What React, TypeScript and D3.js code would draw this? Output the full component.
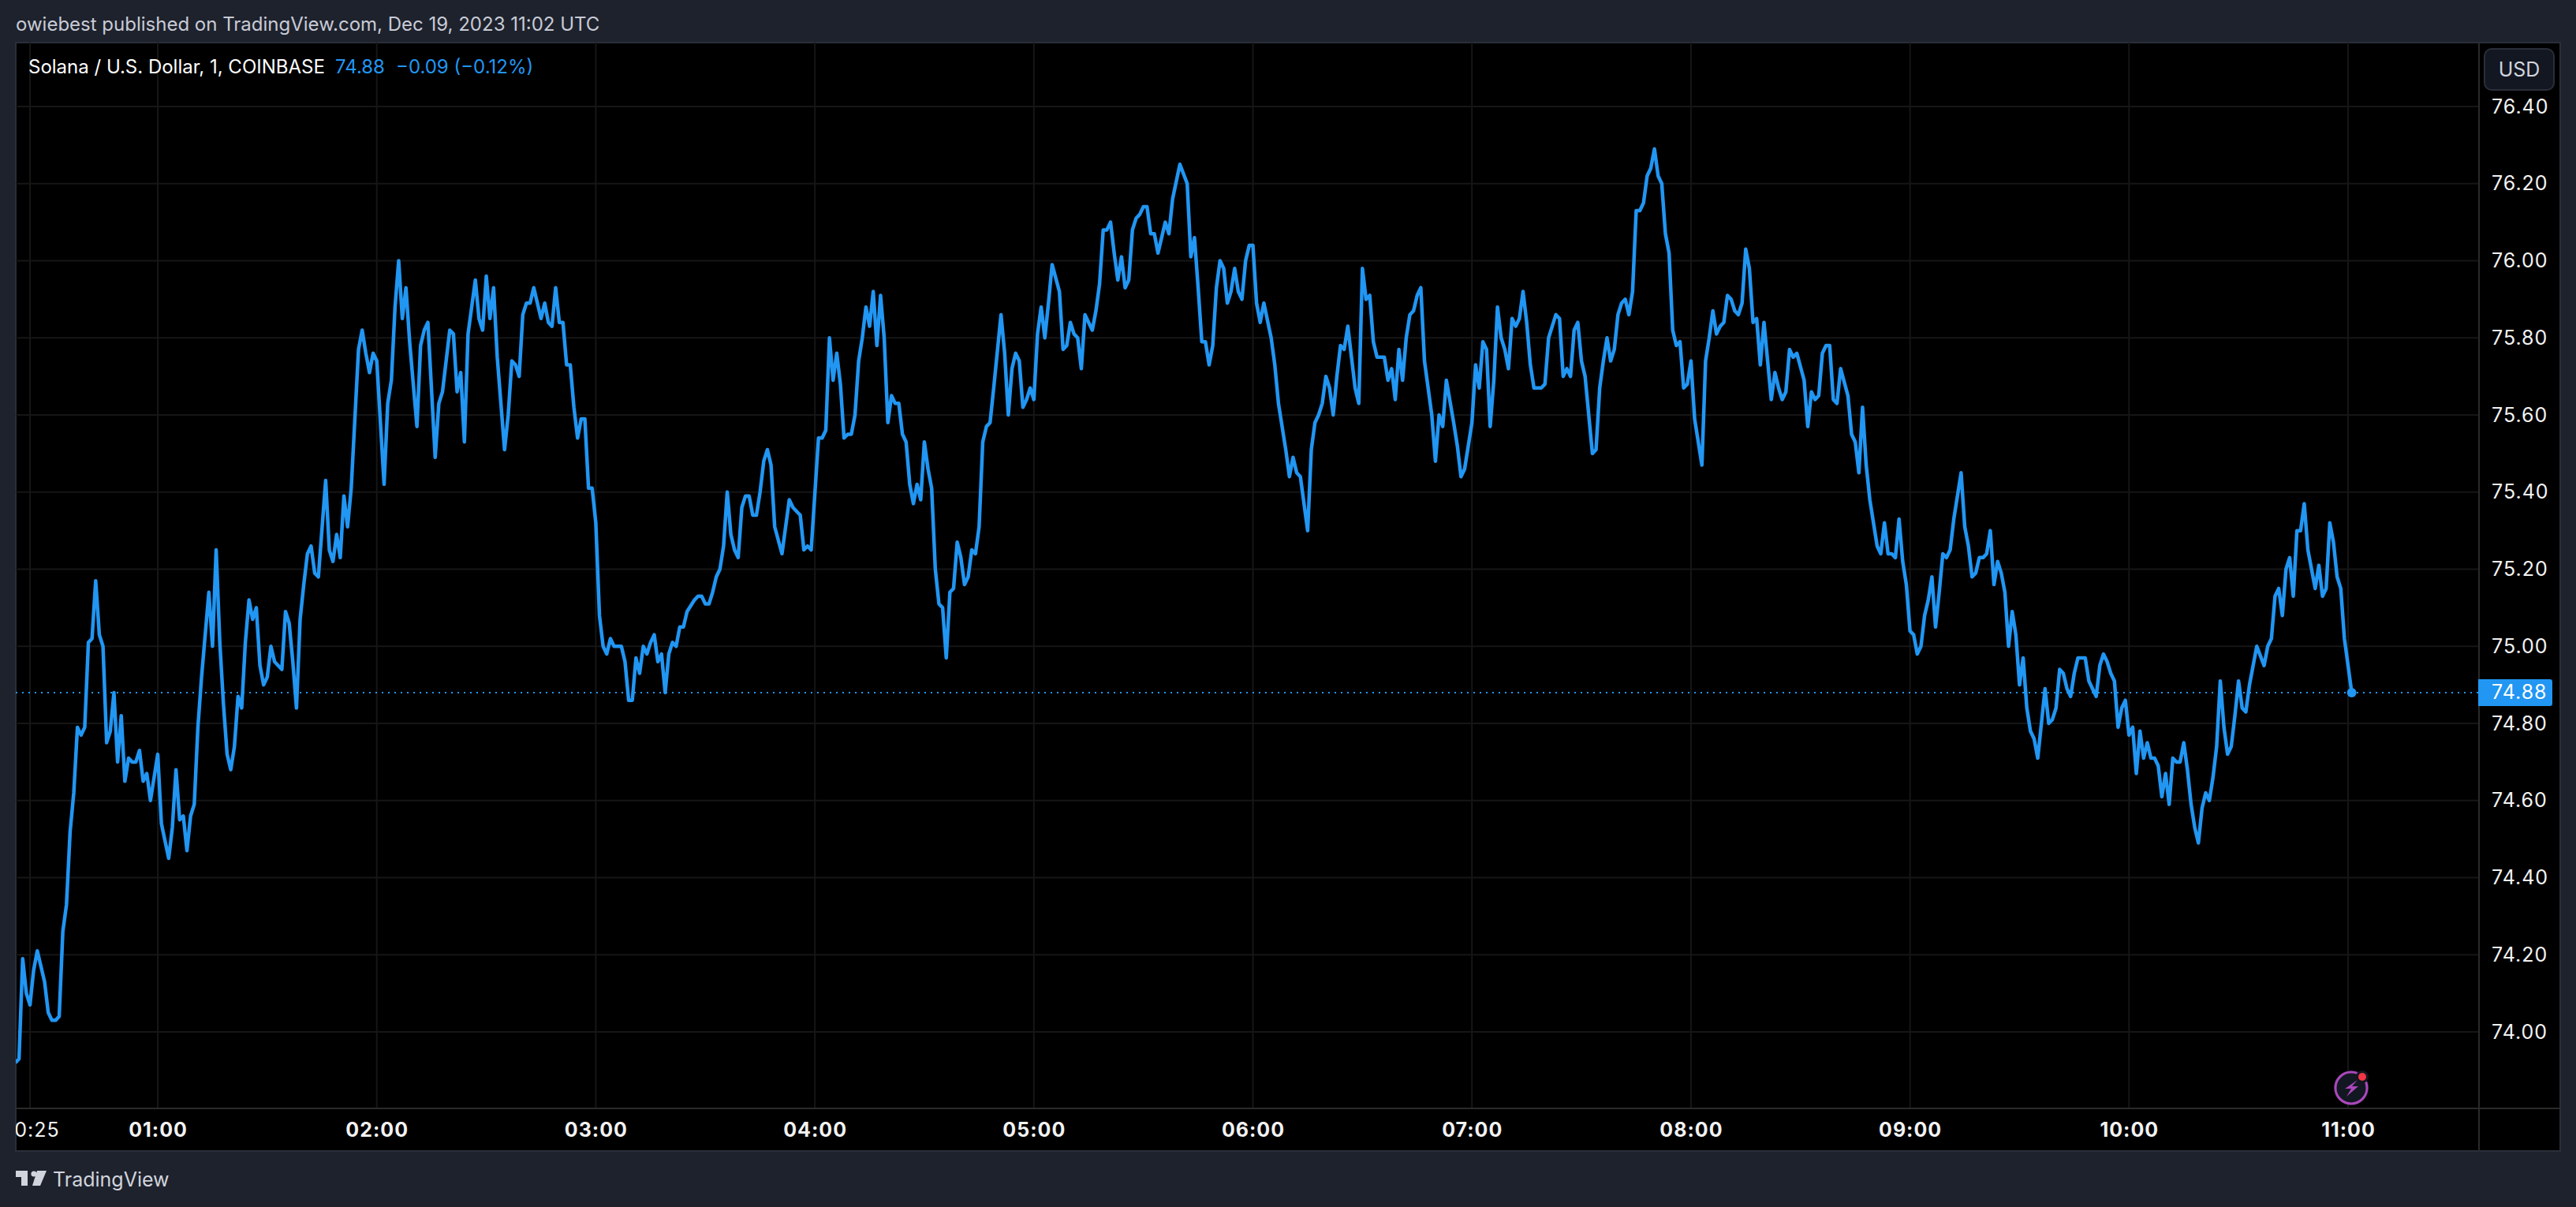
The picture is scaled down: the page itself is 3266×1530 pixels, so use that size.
import { useEffect, useRef } from 'react';
import * as d3 from 'd3';

// [minute of the day, price]
const hour0: [number, number][] = [
  [21, 73.92], [22, 73.93], [23, 74.19], [24, 74.10], [25, 74.07], [26, 74.16], [27, 74.21], [29, 74.13], [30, 74.05],
  [31, 74.03], [32, 74.03], [33, 74.04], [34, 74.26], [35, 74.33], [36, 74.52], [37, 74.62], [38, 74.79], [39, 74.77],
  [40, 74.79], [41, 75.01], [42, 75.02], [43, 75.17], [44, 75.03], [45, 75.00], [46, 74.75], [47, 74.78], [48, 74.88],
  [49, 74.70], [50, 74.82], [51, 74.65], [52, 74.71], [53, 74.70], [54, 74.70], [55, 74.73], [56, 74.65], [57, 74.67],
  [58, 74.60],
];
const hour1: [number, number][] = [
  [60, 74.72], [61, 74.54], [63, 74.45], [64, 74.53], [65, 74.68], [66, 74.55], [67, 74.56], [68, 74.47], [69, 74.56],
  [70, 74.59], [71, 74.79], [72, 74.92], [74, 75.14], [75, 75.00], [76, 75.25], [77, 75.01], [78, 74.85], [79, 74.72],
  [80, 74.68], [81, 74.74], [82, 74.87], [83, 74.84], [84, 75.01], [85, 75.12], [86, 75.07], [87, 75.10], [88, 74.95],
  [89, 74.90], [90, 74.92], [91, 75.00], [92, 74.96], [93, 74.95], [94, 74.94], [95, 75.09], [96, 75.06], [97, 74.96],
  [98, 74.84], [99, 75.07], [100, 75.16], [101, 75.24], [102, 75.26], [103, 75.19], [104, 75.18], [106, 75.43],
  [107, 75.25], [108, 75.22], [109, 75.29], [110, 75.23], [111, 75.39], [112, 75.31], [113, 75.41], [114, 75.59],
  [115, 75.77], [116, 75.82], [117, 75.76], [118, 75.71], [119, 75.76],
];
const hour2: [number, number][] = [
  [120, 75.74], [122, 75.42], [123, 75.63], [124, 75.69], [125, 75.88], [126, 76.00], [127, 75.85], [128, 75.93],
  [129, 75.79], [131, 75.57], [132, 75.78], [133, 75.82], [134, 75.84], [136, 75.49], [137, 75.63], [138, 75.66],
  [139, 75.74], [140, 75.82], [141, 75.81], [142, 75.66], [143, 75.71], [144, 75.53], [145, 75.81], [147, 75.95],
  [148, 75.85], [149, 75.82], [150, 75.96], [151, 75.85], [152, 75.93], [153, 75.75], [155, 75.51], [156, 75.60],
  [157, 75.74], [158, 75.73], [159, 75.70], [160, 75.86], [161, 75.89], [162, 75.89], [163, 75.93], [165, 75.85],
  [166, 75.89], [167, 75.84], [168, 75.83], [169, 75.93], [170, 75.84], [171, 75.84], [172, 75.73], [173, 75.73],
  [174, 75.62], [175, 75.54], [176, 75.59], [177, 75.59], [178, 75.41], [179, 75.41],
];
const hour3: [number, number][] = [
  [180, 75.32], [181, 75.08], [182, 75.00], [183, 74.98], [184, 75.02], [185, 75.00], [187, 75.00], [188, 74.96],
  [189, 74.86], [190, 74.86], [191, 74.97], [192, 74.93], [193, 75.00], [194, 74.98], [195, 75.01], [196, 75.03],
  [197, 74.96], [198, 74.98], [199, 74.88], [200, 74.98], [201, 75.01], [202, 75.00], [203, 75.05], [204, 75.05],
  [205, 75.09], [207, 75.12], [208, 75.13], [209, 75.13], [210, 75.11], [211, 75.11], [212, 75.14], [213, 75.18],
  [214, 75.20], [215, 75.26], [216, 75.40], [217, 75.29], [218, 75.25], [219, 75.23], [220, 75.36], [221, 75.39],
  [222, 75.39], [223, 75.34], [224, 75.34], [225, 75.40], [226, 75.48], [227, 75.51], [228, 75.47], [229, 75.31],
  [231, 75.24], [233, 75.38], [234, 75.36], [236, 75.34], [237, 75.25], [238, 75.26], [239, 75.25],
];
const hour4: [number, number][] = [
  [241, 75.54], [242, 75.54], [243, 75.56], [244, 75.80], [245, 75.69], [246, 75.76], [247, 75.68], [248, 75.54],
  [249, 75.55], [250, 75.55], [251, 75.60], [252, 75.74], [253, 75.80], [254, 75.88], [255, 75.83], [256, 75.92],
  [257, 75.78], [258, 75.91], [259, 75.80], [260, 75.58], [261, 75.65], [262, 75.63], [263, 75.63], [264, 75.55],
  [265, 75.53], [266, 75.42], [267, 75.37], [268, 75.42], [269, 75.38], [270, 75.53], [271, 75.46], [272, 75.41],
  [273, 75.20], [274, 75.11], [275, 75.10], [276, 74.97], [277, 75.14], [278, 75.15], [279, 75.27], [280, 75.23],
  [281, 75.16], [282, 75.18], [283, 75.25], [284, 75.24], [285, 75.31], [286, 75.53], [287, 75.57], [288, 75.58],
  [289, 75.67], [291, 75.86], [292, 75.76], [293, 75.60], [294, 75.72], [295, 75.76], [296, 75.74], [297, 75.62],
  [298, 75.64], [299, 75.67],
];
const hour5: [number, number][] = [
  [300, 75.64], [301, 75.81], [302, 75.88], [303, 75.80], [304, 75.89], [305, 75.99], [307, 75.92], [308, 75.77],
  [309, 75.78], [310, 75.84], [311, 75.81], [312, 75.80], [313, 75.72], [314, 75.86], [316, 75.82], [317, 75.87],
  [318, 75.94], [319, 76.08], [320, 76.08], [321, 76.10], [322, 76.02], [323, 75.95], [324, 76.01], [325, 75.93],
  [326, 75.95], [327, 76.08], [328, 76.11], [329, 76.12], [330, 76.14], [331, 76.14], [332, 76.07], [333, 76.07],
  [334, 76.02], [335, 76.06], [336, 76.10], [337, 76.07], [338, 76.16], [340, 76.25], [342, 76.20], [343, 76.01],
  [344, 76.06], [345, 75.93], [346, 75.79], [347, 75.79], [348, 75.73], [349, 75.78], [350, 75.93], [351, 76.00],
  [352, 75.98], [353, 75.89], [354, 75.92], [355, 75.98], [356, 75.92], [357, 75.90], [358, 76.00], [359, 76.04],
];
const hour6: [number, number][] = [
  [360, 76.04], [361, 75.89], [362, 75.84], [363, 75.89], [365, 75.80], [366, 75.73], [367, 75.63], [369, 75.51],
  [370, 75.44], [371, 75.49], [372, 75.45], [373, 75.44], [374, 75.37], [375, 75.30], [376, 75.51], [377, 75.58],
  [378, 75.60], [379, 75.63], [380, 75.70], [381, 75.67], [382, 75.60], [383, 75.70], [384, 75.78], [385, 75.77],
  [386, 75.83], [387, 75.75], [388, 75.67], [389, 75.63], [390, 75.98], [391, 75.90], [392, 75.91], [393, 75.79],
  [394, 75.75], [396, 75.75], [397, 75.69], [398, 75.72], [399, 75.64], [400, 75.77], [401, 75.69], [402, 75.80],
  [403, 75.86], [404, 75.87], [405, 75.91], [406, 75.93], [407, 75.74], [409, 75.60], [410, 75.48], [411, 75.60],
  [412, 75.57], [413, 75.69], [415, 75.58], [416, 75.52], [417, 75.44], [418, 75.46], [419, 75.52],
];
const hour7: [number, number][] = [
  [420, 75.58], [421, 75.73], [422, 75.67], [423, 75.79], [424, 75.77], [425, 75.57], [426, 75.69], [427, 75.88],
  [428, 75.80], [429, 75.77], [430, 75.72], [431, 75.85], [432, 75.83], [433, 75.85], [434, 75.92], [435, 75.84],
  [436, 75.73], [437, 75.67], [439, 75.67], [440, 75.68], [441, 75.80], [442, 75.83], [443, 75.86], [444, 75.85],
  [445, 75.70], [446, 75.72], [447, 75.70], [448, 75.82], [449, 75.84], [450, 75.74], [451, 75.70], [453, 75.50],
  [454, 75.51], [455, 75.67], [456, 75.74], [457, 75.80], [458, 75.74], [459, 75.77], [460, 75.86], [461, 75.89],
  [462, 75.90], [463, 75.86], [464, 75.92], [465, 76.13], [466, 76.13], [467, 76.15], [468, 76.22], [469, 76.24],
  [470, 76.29], [471, 76.22], [472, 76.20], [473, 76.07], [474, 76.02], [475, 75.82], [476, 75.78], [477, 75.79],
  [478, 75.67], [479, 75.68],
];
const hour8: [number, number][] = [
  [480, 75.74], [481, 75.59], [483, 75.47], [484, 75.74], [485, 75.80], [486, 75.87], [487, 75.81], [488, 75.83],
  [489, 75.84], [490, 75.91], [491, 75.90], [492, 75.87], [493, 75.86], [494, 75.89], [495, 76.03], [496, 75.98],
  [497, 75.84], [498, 75.85], [499, 75.73], [500, 75.84], [501, 75.74], [502, 75.64], [503, 75.71], [504, 75.67],
  [505, 75.64], [506, 75.66], [507, 75.77], [508, 75.75], [509, 75.76], [511, 75.69], [512, 75.57], [513, 75.66],
  [514, 75.64], [515, 75.65], [516, 75.76], [517, 75.78], [518, 75.78], [519, 75.64], [520, 75.63], [521, 75.72],
  [523, 75.65], [524, 75.55], [525, 75.53], [526, 75.45], [527, 75.62], [528, 75.47], [529, 75.38], [530, 75.32],
  [531, 75.26], [532, 75.24], [533, 75.32], [534, 75.24], [535, 75.24], [536, 75.23], [537, 75.33], [538, 75.22],
  [539, 75.16],
];
const hour9: [number, number][] = [
  [540, 75.04], [541, 75.03], [542, 74.98], [543, 75.00], [544, 75.08], [545, 75.12], [546, 75.18], [547, 75.05],
  [548, 75.14], [549, 75.24], [550, 75.23], [551, 75.25], [552, 75.33], [554, 75.45], [555, 75.31], [556, 75.26],
  [557, 75.18], [558, 75.19], [559, 75.23], [560, 75.23], [561, 75.24], [562, 75.30], [563, 75.16], [564, 75.22],
  [565, 75.19], [566, 75.14], [567, 75.00], [568, 75.09], [569, 75.03], [570, 74.90], [571, 74.97], [572, 74.84],
  [573, 74.78], [574, 74.76], [575, 74.71], [577, 74.89], [578, 74.80], [579, 74.81], [580, 74.84], [581, 74.94],
  [582, 74.93], [583, 74.89], [584, 74.87], [585, 74.93], [586, 74.97], [587, 74.97], [588, 74.97], [589, 74.91],
  [590, 74.89], [591, 74.87], [592, 74.95], [593, 74.98], [594, 74.96], [595, 74.93], [596, 74.91], [597, 74.79],
  [598, 74.84], [599, 74.86],
];
const hour10: [number, number][] = [
  [600, 74.77], [601, 74.79], [602, 74.67], [603, 74.78], [604, 74.71], [605, 74.75], [606, 74.71], [607, 74.71],
  [608, 74.69], [609, 74.61], [610, 74.67], [611, 74.59], [612, 74.71], [613, 74.70], [614, 74.70], [615, 74.75],
  [616, 74.68], [617, 74.59], [618, 74.53], [619, 74.49], [620, 74.58], [621, 74.62], [622, 74.60], [623, 74.66],
  [624, 74.74], [625, 74.91], [626, 74.79], [627, 74.72], [628, 74.74], [629, 74.82], [630, 74.91], [631, 74.84],
  [632, 74.83], [633, 74.90], [635, 75.00], [637, 74.95], [638, 75.00], [639, 75.02], [640, 75.13], [641, 75.15],
  [642, 75.08], [643, 75.20], [644, 75.23], [645, 75.13], [646, 75.30], [647, 75.30], [648, 75.37], [649, 75.25],
  [650, 75.20], [651, 75.15], [652, 75.21], [653, 75.13], [654, 75.15], [655, 75.32], [656, 75.27], [657, 75.18],
  [658, 75.15], [659, 75.02], [661, 74.88],
];

const priceTicks = [74, 74.2, 74.4, 74.6, 74.8, 75, 75.2, 75.4, 75.6, 75.8, 76, 76.2, 76.4];
const timeTicks = [25, 60, 120, 180, 240, 300, 360, 420, 480, 540, 600, 660];
const lastPrice = 74.88;

const FONT = 'Inter, Roboto, sans-serif';
const BLUE = '#2196f3';
const GRID = '#161616';
const BORDER = '#2a2e39';
const SEP = '#2a2a2a';

export default function App() {
  const svgRef = useRef<SVGSVGElement>(null);

  useEffect(() => {
    if (!svgRef.current) return;
    const svg = d3.select(svgRef.current);
    svg.selectAll('*').remove();

    const left = 20;
    const top = 54;
    const plotRight = 3143;
    const right = 3246;
    const plotBottom = 1405;
    const bottom = 1459;

    const x = d3.scaleLinear().domain([60, 660]).range([200, 2977]);
    const y = d3.scaleLinear().domain([74, 76.4]).range([1308, 135]);
    const series = [...hour0, ...hour1, ...hour2, ...hour3, ...hour4, ...hour5, ...hour6, ...hour7, ...hour8, ...hour9, ...hour10];
    const last = series[series.length - 1];

    // Page and chart panel
    svg.append('rect').attr('width', 3266).attr('height', 1530).attr('fill', '#1e222d');
    svg.append('rect')
      .attr('x', left).attr('y', top)
      .attr('width', right - left).attr('height', bottom - top)
      .attr('fill', '#000')
      .attr('stroke', BORDER)
      .attr('stroke-width', 2);

    const defs = svg.append('defs');
    defs.append('clipPath').attr('id', 'plot-clip').append('rect')
      .attr('x', left).attr('y', top).attr('width', plotRight - left).attr('height', plotBottom - top);
    defs.append('clipPath').attr('id', 'time-clip').append('rect')
      .attr('x', left).attr('y', plotBottom).attr('width', plotRight - left).attr('height', bottom - plotBottom);

    // Grid
    svg.append('g').selectAll('line').data(priceTicks).join('line')
      .attr('x1', left).attr('x2', plotRight)
      .attr('y1', d => y(d)).attr('y2', d => y(d))
      .attr('stroke', GRID).attr('stroke-width', 2);
    svg.append('g').selectAll('line').data(timeTicks).join('line')
      .attr('x1', d => x(d)).attr('x2', d => x(d))
      .attr('y1', top).attr('y2', plotBottom)
      .attr('stroke', GRID).attr('stroke-width', 2);

    // Axis separators
    svg.append('line').attr('x1', left).attr('x2', right).attr('y1', plotBottom).attr('y2', plotBottom)
      .attr('stroke', SEP).attr('stroke-width', 2);
    svg.append('line').attr('x1', plotRight).attr('x2', plotRight).attr('y1', top).attr('y2', bottom)
      .attr('stroke', SEP).attr('stroke-width', 2);

    // Last price line
    svg.append('line')
      .attr('x1', left).attr('x2', plotRight)
      .attr('y1', y(lastPrice)).attr('y2', y(lastPrice))
      .attr('stroke', BLUE).attr('stroke-width', 2).attr('stroke-dasharray', '2,6');

    // Price line
    const line = d3.line<[number, number]>().x(d => x(d[0])).y(d => y(d[1]));
    svg.append('path')
      .datum(series)
      .attr('clip-path', 'url(#plot-clip)')
      .attr('fill', 'none')
      .attr('stroke', BLUE)
      .attr('stroke-width', 4.5)
      .attr('stroke-linejoin', 'round')
      .attr('d', line);
    svg.append('circle').attr('cx', x(last[0])).attr('cy', y(last[1])).attr('r', 6).attr('fill', BLUE);

    // Price axis
    const priceAxis = svg.append('g')
      .attr('transform', `translate(${plotRight},0)`)
      .call(d3.axisRight(y).tickValues(priceTicks).tickFormat(d3.format('.2f')).tickSize(0).tickPadding(16));
    priceAxis.select('.domain').remove();
    priceAxis.selectAll('text')
      .attr('font-family', FONT).attr('font-size', 25).attr('letter-spacing', 1).attr('fill', '#f2f2f2');

    const lastTag = svg.append('g');
    lastTag.append('path')
      .attr('d', `M${plotRight - 1},${y(lastPrice) - 17}h91a3,3 0 0 1 3,3v28a3,3 0 0 1 -3,3h-91z`)
      .attr('fill', BLUE);
    lastTag.append('text')
      .attr('x', plotRight + 16).attr('y', y(lastPrice)).attr('dy', '0.32em')
      .attr('font-family', FONT).attr('font-size', 25).attr('letter-spacing', 1).attr('fill', '#fff')
      .text(d3.format('.2f')(lastPrice));

    // Time axis, the clip sits on an outer group so its box stays in page coordinates
    const timeLabel = (m: number) => d3.format('02')(Math.floor(m / 60)) + ':' + d3.format('02')(m % 60);
    const timeAxis = svg.append('g')
      .attr('clip-path', 'url(#time-clip)')
      .append('g')
      .attr('transform', `translate(0,${plotBottom})`)
      .call(d3.axisBottom(x).tickValues(timeTicks).tickFormat(d => timeLabel(+d)).tickSize(0).tickPadding(18));
    timeAxis.select('.domain').remove();
    timeAxis.selectAll('text')
      .attr('font-family', FONT).attr('font-size', 25).attr('letter-spacing', 1).attr('fill', '#f2f2f2')
      .attr('font-weight', d => ((d as number) % 60 === 0 ? 700 : 400));

    // Header texts
    svg.append('text').attr('x', 20).attr('y', 39)
      .attr('font-family', FONT).attr('font-size', 24).attr('fill', '#c8cbd6')
      .text('owiebest published on TradingView.com, Dec 19, 2023 11:02 UTC');
    svg.append('text').attr('x', 36).attr('y', 93)
      .attr('font-family', FONT).attr('font-size', 24).attr('fill', '#fff')
      .text('Solana / U.S. Dollar, 1, COINBASE');
    svg.append('text').attr('x', 425).attr('y', 93)
      .attr('font-family', FONT).attr('font-size', 24).attr('fill', BLUE)
      .text('74.88');
    svg.append('text').attr('x', 502).attr('y', 93)
      .attr('font-family', FONT).attr('font-size', 24).attr('fill', BLUE)
      .text('\u22120.09 (\u22120.12%)');

    // Currency button
    svg.append('rect')
      .attr('x', 3150).attr('y', 62).attr('width', 88).attr('height', 52).attr('rx', 9)
      .attr('fill', '#131722').attr('stroke', BORDER).attr('stroke-width', 2);
    svg.append('text').attr('x', 3194).attr('y', 88).attr('dy', '0.35em').attr('text-anchor', 'middle')
      .attr('font-family', FONT).attr('font-size', 25).attr('fill', '#d1d4dc')
      .text('USD');

    // Bolt badge
    const badge = svg.append('g').attr('transform', 'translate(2981,1379)');
    badge.append('circle').attr('r', 22).attr('fill', '#1e222d');
    badge.append('circle').attr('r', 20).attr('fill', '#131722').attr('stroke', '#ab47bc').attr('stroke-width', 3);
    badge.append('path').attr('d', 'M8,-10L-8,1L0,1L-6,11L9,-2L1,-2Z').attr('fill', '#ab47bc');
    badge.append('circle').attr('cx', 14).attr('cy', -14).attr('r', 8).attr('fill', '#131722');
    badge.append('circle').attr('cx', 14).attr('cy', -14).attr('r', 5).attr('fill', '#f23645');

    // Logo
    const logo = svg.append('g').attr('fill', '#d1d4dc');
    logo.append('path').attr('d', 'M20,1484H35V1503H27V1492H20Z');
    logo.append('circle').attr('cx', 43).attr('cy', 1488).attr('r', 3.6);
    logo.append('path').attr('d', 'M47,1484H59L51,1503H41Z');
    svg.append('text').attr('x', 67).attr('y', 1504)
      .attr('font-family', FONT).attr('font-size', 25).attr('fill', '#d1d4dc')
      .text('TradingView');
  }, []);

  return <svg ref={svgRef} width={3266} height={1530} style={{ position: 'fixed', left: 0, top: 0, display: 'block' }} />;
}
